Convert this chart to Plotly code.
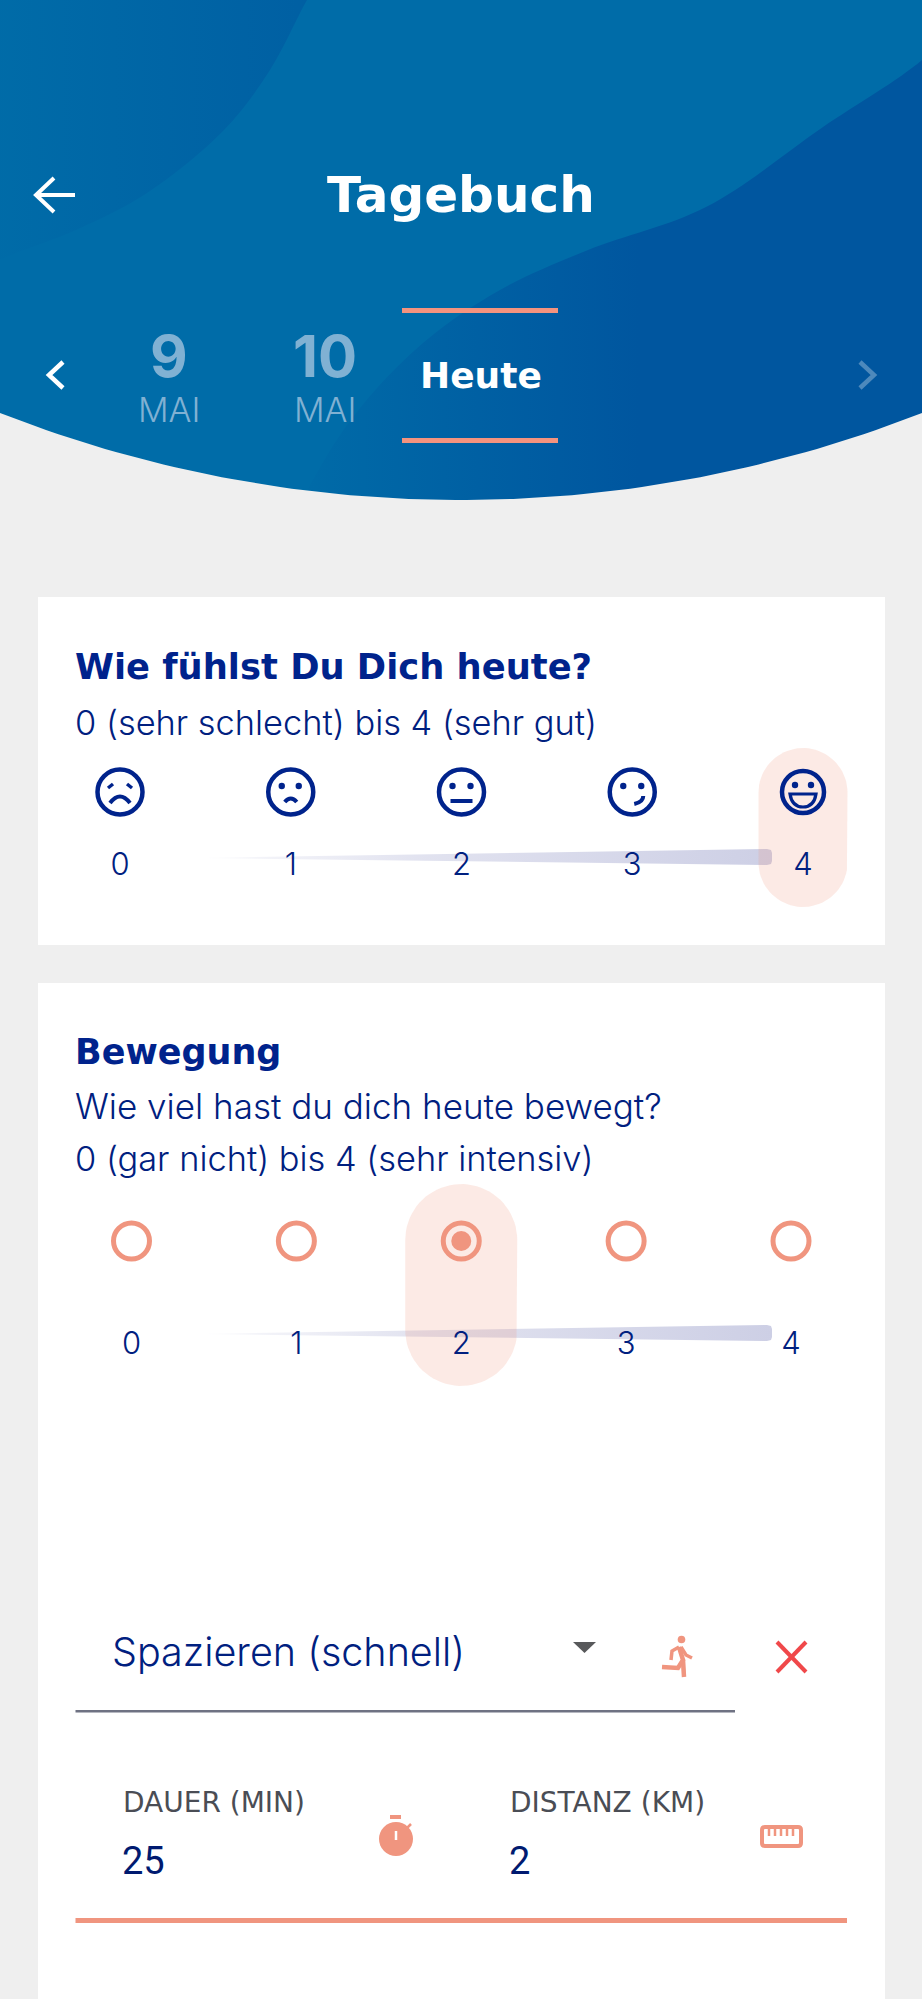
"""Tagebuch screen: mood and movement ratings on a phone layout."""

import numpy as np
import plotly.graph_objects as go

# --- data ---
screen_title = "Tagebuch"
day_numbers = ["9", "10"]
day_months = ["MAI", "MAI"]
today_label = "Heute"

mood_title = "Wie fühlst Du Dich heute?"
mood_hint = "0 (sehr schlecht) bis 4 (sehr gut)"
mood_levels = [0, 1, 2, 3, 4]
mood_selected = 4

move_title = "Bewegung"
move_question = "Wie viel hast du dich heute bewegt?"
move_hint = "0 (gar nicht) bis 4 (sehr intensiv)"
move_levels = [0, 1, 2, 3, 4]
move_selected = 2

activity_name = "Spazieren (schnell)"
duration_label = "DAUER (MIN)"
duration_value = "25"
distance_label = "DISTANZ (KM)"
distance_value = "2"

# --- styles ---
W, H = 922, 1999
FONT = "Inter"
BOLD_FONT = "DejaVu Sans"
NAVY = "#00238c"
INK = "#00207f"
SALMON = "#f0957f"
BLUE = "#006ca8"
GREY = "#efefef"
DIM = "#80b1d3"
CLEAR = "rgba(0,0,0,0)"

MOOD_X0, MOOD_X1 = 120, 803
MOVE_X0, MOVE_X1 = 131.5, 791


def mood_px(level):
    return MOOD_X0 + (MOOD_X1 - MOOD_X0) * level / 4


def move_px(level):
    return MOVE_X0 + (MOVE_X1 - MOVE_X0) * level / 4


fig = go.Figure()
shapes = []
notes = []


def area(xs, ys, color=None, gradient=None, spline=False):
    fig.add_trace(
        go.Scatter(
            x=xs,
            y=ys,
            mode="lines",
            fill="toself",
            fillcolor=color,
            fillgradient=gradient,
            line=dict(width=0, shape="spline" if spline else "linear"),
            hoverinfo="skip",
            showlegend=False,
        )
    )


def note(x, y, text, size, color=INK, weight=300, anchor="left", family=FONT):
    notes.append(
        dict(
            x=x,
            y=y,
            text=text,
            xanchor=anchor,
            yanchor="middle",
            showarrow=False,
            font=dict(family=family, size=size, color=color, weight=weight),
        )
    )


def stroke(path, color=NAVY, width=4, fill=None):
    shapes.append(
        dict(
            type="path",
            path=path,
            xref="x",
            yref="y",
            line=dict(color=color, width=width),
            fillcolor=fill,
            layer="above",
        )
    )


def pill(cx, top, bottom, half):
    t = np.linspace(np.pi, 2 * np.pi, 40)
    xs = np.r_[cx + half * np.cos(t), cx - half * np.cos(t)]
    ys = np.r_[top + half + half * np.sin(t), bottom - half - half * np.sin(t)]
    area(xs, ys, color="rgba(240,149,127,0.2)")


def track(y_mid):
    grad = dict(
        type="horizontal",
        start=196,
        stop=772,
        colorscale=[
            [0, "rgba(205,207,229,0)"],
            [0.12, "rgba(205,207,229,0.25)"],
            [0.4, "rgba(205,207,229,0.6)"],
            [1, "rgba(205,207,229,1)"],
        ],
    )
    xs = [196, 767, 771, 772, 772, 771, 767, 196]
    ys = [y_mid + 1, y_mid - 8, y_mid - 7, y_mid - 4, y_mid + 4, y_mid + 7, y_mid + 8, y_mid + 1]
    area(xs, ys, gradient=grad)


# --- page and header ---
shapes.append(dict(type="rect", x0=0, x1=W, y0=0, y1=H, fillcolor=GREY, line_width=0, layer="below"))
shapes.append(dict(type="rect", x0=38, x1=885, y0=597, y1=945, fillcolor="white", line_width=0, layer="below"))
shapes.append(dict(type="rect", x0=38, x1=885, y0=983, y1=H + 5, fillcolor="white", line_width=0, layer="below"))

area([0, W, W, 0], [0, 0, 520, 520], color=BLUE)
area(
    [-40, -40, 0, 76, 147, 224, 270, 307, 320],
    [-20, 285, 260, 230, 193, 130, 70, 0, -20],
    gradient=dict(
        type="horizontal",
        start=0,
        stop=300,
        colorscale=[[0, "rgba(0,86,159,0.03)"], [1, "rgba(0,86,159,0.55)"]],
    ),
    spline=True,
)
area(
    [960, 922, 823, 706, 588, 500, 423, 353, 306, 290, 960],
    [20, 60, 127, 207, 250, 290, 343, 417, 493, 530, 530],
    gradient=dict(
        type="horizontal",
        start=300,
        stop=640,
        colorscale=[[0, "rgba(0,86,159,0.05)"], [1, "rgba(0,86,159,1)"]],
    ),
    spline=True,
)

# grey area below the header arc
arc_r = 1265
arc_x = np.linspace(0, W, 80)
arc_y = 500 - arc_r + np.sqrt(arc_r**2 - (arc_x - 461) ** 2)
area(np.r_[arc_x, W, 0], np.r_[arc_y, 592, 592], color=GREY)

note(461, 195, screen_title, 50, color="white", weight=700, anchor="center", family=BOLD_FONT)
stroke("M 36 195 L 75 195", color="white")
stroke("M 54 178 L 36 195 L 54 212", color="white")
stroke("M 63 362 L 49 375 L 63 388", color="white", width=4.5)
stroke("M 860 362 L 874 375 L 860 388", color="rgba(255,255,255,0.3)", width=4.5)

for cx, num, mon in zip([169, 325], day_numbers, day_months):
    note(cx, 356, num, 58, color=DIM, weight=700, anchor="center")
    note(cx, 409, mon, 34, color=DIM, weight=300, anchor="center")
note(480.5, 375, today_label, 36, color="white", weight=700, anchor="center", family=BOLD_FONT)
for y0 in (308, 438):
    shapes.append(dict(type="rect", x0=402, x1=558, y0=y0, y1=y0 + 5, fillcolor="#f4937e", line_width=0, layer="above"))

# --- mood card ---
note(73, 666, mood_title, 35.3, color=NAVY, weight=700, family=BOLD_FONT)
note(73, 722, mood_hint, 34.4)
track(857)
pill(mood_px(mood_selected), 748, 907, 44.5)

fig.add_trace(
    go.Scatter(
        x=mood_levels,
        y=[792] * len(mood_levels),
        xaxis="x2",
        yaxis="y",
        mode="markers",
        marker=dict(
            symbol="circle-open",
            size=[45 if v != mood_selected else 42 for v in mood_levels],
            opacity=1,
            color=NAVY,
            line=dict(color=NAVY, width=4.5),
        ),
        cliponaxis=False,
        hoverinfo="skip",
        showlegend=False,
    )
)
fig.add_trace(
    go.Scatter(
        x=mood_levels,
        y=[867] * len(mood_levels),
        xaxis="x2",
        yaxis="y",
        mode="text",
        text=[str(v) for v in mood_levels],
        textposition="middle center",
        textfont=dict(family=FONT, size=31, color=INK, weight=300),
        cliponaxis=False,
        hoverinfo="skip",
        showlegend=False,
    )
)


def dot(cx, cy, r=3.2, color=NAVY):
    shapes.append(
        dict(type="circle", x0=cx - r, x1=cx + r, y0=cy - r, y1=cy + r, fillcolor=color, line_width=0, layer="above")
    )


# face 0: slanted brows and a wide frown
c = mood_px(0)
stroke(f"M {c-12} 788 L {c-7} 784", width=3.5)
stroke(f"M {c+12} 788 L {c+7} 784", width=3.5)
stroke(f"M {c-10} 803 Q {c} 790 {c+10} 803", width=4)
# face 1: dots and a small frown
c = mood_px(1)
dot(c - 9, 786)
dot(c + 8, 786)
stroke(f"M {c-6} 802 Q {c} 795 {c+6} 802", width=4)
# face 2: dots and a flat mouth
c = mood_px(2)
dot(c - 9, 786)
dot(c + 9, 786)
stroke(f"M {c-11} 801 L {c+11} 801", width=4)
# face 3: dots and a smirk
c = mood_px(3)
dot(c - 9, 786)
dot(c + 9, 786)
stroke(f"M {c+2} 804 Q {c+11} 802 {c+11} 796", width=4)
# face 4: dots and an open laugh
c = mood_px(4)
dot(c - 8, 785)
dot(c + 8, 785)
stroke(f"M {c-13} 794 L {c+13} 794 Q {c+11} 807 {c} 807 Q {c-11} 807 {c-13} 794 Z", width=3.2)

# --- movement card ---
note(73, 1052, move_title, 35, color=NAVY, weight=700, family=BOLD_FONT)
note(73, 1106, move_question, 35)
note(73, 1158, move_hint, 34.4)
track(1333)
pill(move_px(move_selected), 1184, 1386, 56)

fig.add_trace(
    go.Scatter(
        x=move_levels,
        y=[1241] * len(move_levels),
        xaxis="x3",
        yaxis="y",
        mode="markers",
        marker=dict(symbol="circle-open", size=36, color=SALMON, line=dict(color=SALMON, width=5)),
        cliponaxis=False,
        hoverinfo="skip",
        showlegend=False,
    )
)
fig.add_trace(
    go.Scatter(
        x=[move_selected],
        y=[1241],
        xaxis="x3",
        yaxis="y",
        mode="markers",
        marker=dict(size=20, color=SALMON),
        cliponaxis=False,
        hoverinfo="skip",
        showlegend=False,
    )
)
fig.add_trace(
    go.Scatter(
        x=move_levels,
        y=[1346] * len(move_levels),
        xaxis="x3",
        yaxis="y",
        mode="text",
        text=[str(v) for v in move_levels],
        textposition="middle center",
        textfont=dict(family=FONT, size=31, color=INK, weight=300),
        cliponaxis=False,
        hoverinfo="skip",
        showlegend=False,
    )
)

# --- activity form ---
note(110, 1652, activity_name, 39.5)
stroke("M 573 1642 L 596 1642 L 584.5 1653 Z", color="#58595b", width=0, fill="#58595b")

# runner icon
dot(681.5, 1639.5, r=3.8, color=SALMON)
stroke("M 679 1647 L 683 1660 L 678 1668 L 662 1667", color=SALMON, width=4.5)
stroke("M 683 1660 L 684 1677", color=SALMON, width=4.5)
stroke("M 679 1647 L 672 1651 L 671 1660", color=SALMON, width=3.5)
stroke("M 681 1647 L 686 1655 L 692 1658", color=SALMON, width=3.5)

# remove cross
stroke("M 777 1642 L 806 1672", color="#f0484a", width=4)
stroke("M 806 1642 L 777 1672", color="#f0484a", width=4)

shapes.append(dict(type="rect", x0=75.5, x1=735, y0=1710, y1=1712.5, fillcolor="#6f7283", line_width=0, layer="above"))

note(121, 1802, duration_label, 28, color="#4a4d55", weight=400, family="DejaVu Sans")
note(508, 1802, distance_label, 28, color="#4a4d55", weight=400, family="DejaVu Sans")
note(120, 1861, duration_value, 38, color="#001a70", weight=400, family="Roboto")
note(507, 1861, distance_value, 38, color="#001a70", weight=400, family="Roboto")

# stopwatch icon
dot(396, 1839, r=17, color=SALMON)
shapes.append(dict(type="rect", x0=390, x1=401, y0=1815, y1=1819, fillcolor=SALMON, line_width=0, layer="above"))
stroke("M 396 1831 L 396 1840", color="white", width=2.5)
stroke("M 407 1828 L 411 1824", color=SALMON, width=2.5)

# ruler icon
stroke(
    "M 765 1827 L 798 1827 Q 801 1827 801 1830 L 801 1843 Q 801 1846 798 1846 L 765 1846 Q 762 1846 762 1843 "
    "L 762 1830 Q 762 1827 765 1827 Z",
    color=SALMON,
    width=4,
)
for tx in (769, 775, 781, 787, 793):
    stroke(f"M {tx} 1827 L {tx} 1836", color=SALMON, width=2.5)

shapes.append(dict(type="rect", x0=75.5, x1=847, y0=1918, y1=1923, fillcolor=SALMON, line_width=0, layer="above"))

fig.update_layout(
    width=W,
    height=H,
    margin=dict(l=0, r=0, t=0, b=0),
    paper_bgcolor=GREY,
    plot_bgcolor=CLEAR,
    showlegend=False,
    shapes=shapes,
    annotations=notes,
    xaxis=dict(range=[0, W], visible=False, fixedrange=True),
    yaxis=dict(range=[H, 0], visible=False, fixedrange=True),
    xaxis2=dict(
        domain=[MOOD_X0 / W, MOOD_X1 / W], range=[0, 4], anchor="y", visible=False, fixedrange=True
    ),
    xaxis3=dict(
        domain=[MOVE_X0 / W, MOVE_X1 / W], range=[0, 4], anchor="y", visible=False, fixedrange=True
    ),
)

fig.write_html(
    "out.html",
    config=dict(displayModeBar=False),
    post_script="document.body.style.margin='0';document.body.style.overflow='hidden';",
)
